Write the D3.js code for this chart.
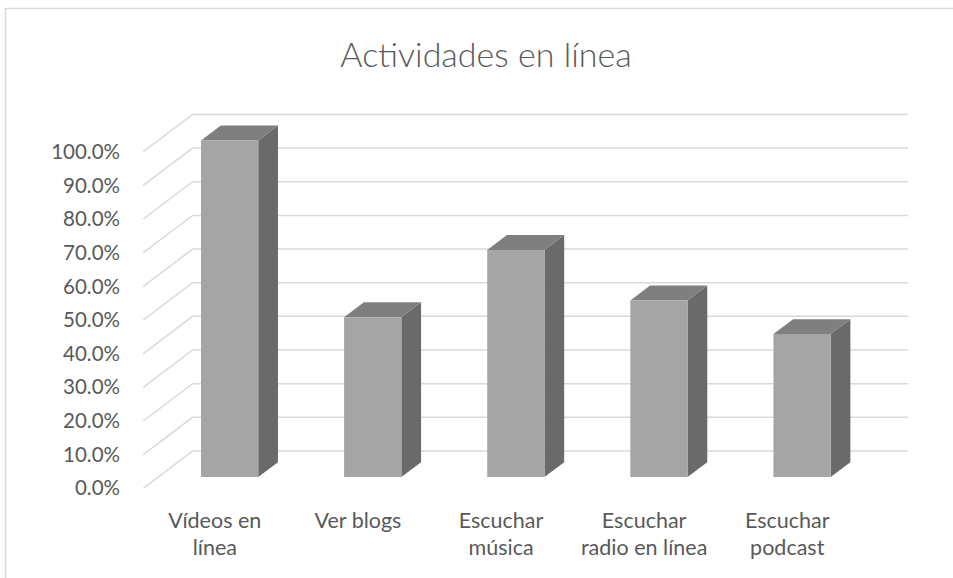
<!DOCTYPE html>
<html>
<head>
<meta charset="utf-8">
<script src="https://cdn.jsdelivr.net/npm/d3@7"></script>
<style>
  body { margin: 0; background: #ffffff; }
  text { font-family: Lato, "Open Sans", sans-serif; fill: #595959; }
</style>
</head>
<body>
<script>
// data
var categories = ["Vídeos en línea", "Ver blogs", "Escuchar música", "Escuchar radio en línea", "Escuchar podcast"];
var categoryLines = [["Vídeos en", "línea"], ["Ver blogs"], ["Escuchar", "música"], ["Escuchar", "radio en línea"], ["Escuchar", "podcast"]];
var values = [1.0, 0.475, 0.675, 0.525, 0.425];
var yTicks = [0, 0.1, 0.2, 0.3, 0.4, 0.5, 0.6, 0.7, 0.8, 0.9, 1.0];
var chartTitle = "Actividades en línea";

var width = 953,
    height = 578;

// front floor edge and depth vector of the 3d box
var x0 = 143.3, x1 = 858.8, floorY = 488.3;
var depthX = 49.3, depthY = 37.3;

var svg = d3.select("body").append("svg")
    .attr("width", width)
    .attr("height", height);

// chart frame (runs off the right and bottom edges)
svg.append("rect")
    .attr("x", 5.5)
    .attr("y", 8.5)
    .attr("width", 980)
    .attr("height", 620)
    .style("fill", "#ffffff")
    .style("stroke", "#d9d9d9")
    .style("stroke-width", 1.5);

var x = d3.scaleBand()
    .domain(categories)
    .range([x0, x1])
    .paddingInner(0.6)
    .paddingOuter(0.3);

var y = d3.scaleLinear()
    .domain([0, 1])
    .range([0, floorY - 151.7]);

// project a point (front x, value, depth 0..1) to screen
function P(px, v, t) {
  return [px + t * depthX, floorY - y(v) - t * depthY];
}

// gridlines: diagonal side wall + back wall
svg.append("g")
    .selectAll("path")
    .data(yTicks)
    .enter()
    .append("path")
    .attr("d", function(v) {
      return d3.line()([P(x0, v, 0), P(x0, v, 1), P(x1, v, 1)]);
    })
    .style("fill", "none")
    .style("stroke", "#d9d9d9")
    .style("stroke-width", 1.5);

// y labels
svg.append("g")
    .selectAll("text")
    .data(yTicks)
    .enter()
    .append("text")
    .attr("x", 120)
    .attr("y", function(v) { return P(x0, v, 0)[1]; })
    .attr("dy", "0.35em")
    .attr("text-anchor", "end")
    .style("font-size", "20.5px")
    .text(function(v) { return d3.format(".1%")(v); });

// bars
var t1 = 0.3, t2 = 0.7;
var bars = svg.append("g")
    .selectAll("g")
    .data(categories)
    .enter()
    .append("g");

bars.append("path")   // side
    .attr("d", function(c, i) {
      var xr = x(c) + x.bandwidth();
      return d3.line()([P(xr, 0, t1), P(xr, values[i], t1), P(xr, values[i], t2), P(xr, 0, t2)]) + "Z";
    })
    .style("fill", "#6a6a6a");

bars.append("path")   // top
    .attr("d", function(c, i) {
      var xl = x(c), xr = x(c) + x.bandwidth();
      return d3.line()([P(xl, values[i], t1), P(xr, values[i], t1), P(xr, values[i], t2), P(xl, values[i], t2)]) + "Z";
    })
    .style("fill", "#7f7f7f");

bars.append("path")   // front
    .attr("d", function(c, i) {
      var xl = x(c), xr = x(c) + x.bandwidth();
      return d3.line()([P(xl, 0, t1), P(xr, 0, t1), P(xr, values[i], t1), P(xl, values[i], t1)]) + "Z";
    })
    .style("fill", "#a5a5a5");

// category labels
var labels = svg.append("g")
    .selectAll("text")
    .data(categories)
    .enter()
    .append("text")
    .attr("x", function(c) { return x(c) + x.bandwidth() / 2; })
    .attr("y", 528)
    .attr("text-anchor", "middle")
    .style("font-size", "21.5px");

labels.each(function(c, i) {
  var t = d3.select(this);
  categoryLines[i].forEach(function(line, j) {
    t.append("tspan")
      .attr("x", x(c) + x.bandwidth() / 2)
      .attr("dy", j == 0 ? 0 : 27)
      .text(line);
  });
});

// title
svg.append("text")
    .attr("x", 486)
    .attr("y", 67)
    .attr("text-anchor", "middle")
    .style("font-size", "34px")
    .style("font-weight", 300)
    .text(chartTitle);
</script>
</body>
</html>
